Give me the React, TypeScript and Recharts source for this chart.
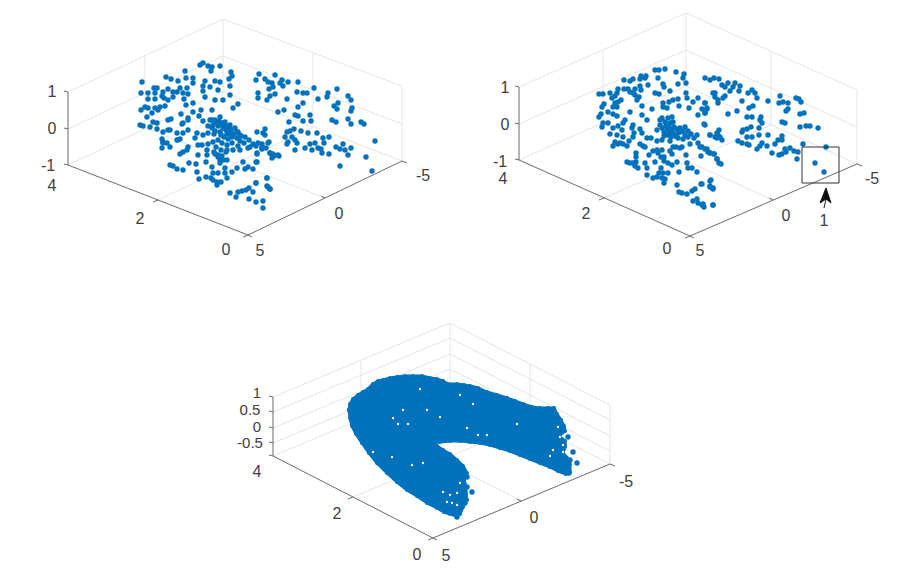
import { ScatterChart, Scatter, XAxis, YAxis, ReferenceDot } from "recharts";

type Pt = [number, number];
type Seg = [number, number, number, number];

const BLUE = "#0072BD";

const topLeftPoints: Pt[] = [
  [142,82],[166,77],[171,79],[178,81],[185,71],[186,78],[193,78],[193,83],[200,65],[203,63],[208,66],[212,67],[211,71],[220,66],[231,72],[232,76],[229,79],[205,81],[203,86],[210,87],[215,81],[220,82],[230,86],[218,90],[203,91],[205,97],
  [141,93],[148,93],[154,88],[157,88],[155,93],[148,99],[155,99],[163,92],[168,89],[162,96],[164,98],[168,100],[173,92],[177,92],[180,88],[187,88],[183,93],[188,94],[173,97],[184,99],[193,103],[186,105],
  [141,110],[145,107],[148,108],[155,108],[160,107],[165,106],[158,110],[152,113],[147,117],[153,122],[150,127],[157,123],[140,125],[143,126],[157,129],[168,120],[171,119],[181,114],[193,112],[201,110],[188,118],[183,123],[199,116],[203,121],[210,120],[215,120],[220,117],[212,110],[215,100],[223,100],[230,95],[233,108],[238,104],[213,125],[222,123],[225,127],[230,128],[237,132],[240,135],[168,130],[163,132],[177,133],[188,130],[203,135],[208,133],[214,134],[220,132],[227,134],[232,136],
  [162,139],[163,143],[170,130],[178,140],[183,133],[188,120],[182,124],[197,133],[195,138],
  [162,148],[163,142],[167,143],[170,147],[177,140],[180,139],[198,145],[202,145],[208,144],[213,142],[207,150],[188,147],[187,150],[183,152],[180,154],[198,155],[207,155],[215,154],[218,157],[220,160],[223,160],[227,160],[220,163],[170,165],[173,166],[177,169],[183,170],[189,163],[196,164],[206,162],[212,167],[197,172],[206,177],[199,179],[211,178],[213,173],[218,173],[225,168],[225,173],[227,178],[232,172],[237,168],[243,162],[248,167],[245,169],[253,169],[257,162],[257,153],[248,148],[240,150],[213,180],[217,182],[221,182],[217,185],[230,193],[238,192],[242,191],[246,190],[249,188],[253,192],[256,183],[236,197],[249,199],[256,202],[263,201],[263,208],[267,178],[268,187],[270,189],[268,143],[262,148],[270,153],[274,156],[278,155],
  [259,74],[275,75],[256,80],[265,79],[268,82],[272,83],[273,87],[269,89],[280,83],[282,80],[283,86],[288,82],[298,82],[314,88],[337,89],[297,92],[303,93],[307,93],[328,93],[327,97],[348,96],[351,100],[318,99],[287,99],[275,94],[270,96],[267,100],[258,93],[258,98],[303,103],[298,107],[284,110],[278,112],[338,103],[334,106],[337,109],[352,108],[351,111],[295,115],[298,116],[310,115],[332,120],[336,122],[311,121],[303,121],[289,122],[348,119],[351,124],[361,122],[364,124],[294,129],[290,131],[287,132],[301,131],[308,133],[317,133],[265,129],[263,133],[265,135],[257,132],[285,137],[292,137],[295,140],[288,142],[287,144],[297,143],[323,138],[329,137],[324,143],[310,144],[315,143],[269,142],[262,144],[258,143],[375,141],[343,144],[336,147],[340,149],[345,150],[351,148],[348,155],[305,148],[312,150],[318,148],[321,149],[322,153],[295,150],[329,154],[266,148],[262,149],[270,153],[279,156],[272,158],[273,154],[366,157],[340,166],[372,171],[257,154],[256,162],[267,178],[267,186],[270,189],[256,183],
  [212,120],[216,122],[219,121],[222,124],[225,122],[218,126],[223,128],[227,126],[230,125],[226,130],[231,130],[235,128],[229,133],[234,134],[238,132],[232,137],[237,138],[241,136],[245,137],[240,141],[244,143],[249,140],[253,144],[256,146],[262,147],[221,135],[224,137],[228,139],[218,140],[212,128],[208,126],[215,131],[250,147],[238,146],[232,143],[227,145],[222,143],[216,147],[221,150],[226,152],[214,152],[218,155],[222,156],[227,150],[233,150],
];

const topRightPoints: Pt[] = [
  [655,70],[659,70],[665,69],[676,72],[684,74],[683,78],[641,76],[646,76],[640,79],[645,78],[624,80],[630,81],[633,79],[658,78],[663,84],[664,87],[678,84],[686,83],[648,85],[640,86],[635,89],[641,90],[618,89],[624,89],[628,89],[630,92],[670,91],[655,93],[659,94],[686,93],[599,94],[603,94],[610,93],[617,93],[612,98],[615,96],[635,95],[639,97],[633,93],[637,100],[621,100],[618,102],[615,103],[613,107],[617,107],[604,104],[602,107],[642,106],[652,109],[663,103],[663,107],[667,108],[669,102],[673,100],[678,99],[679,106],[687,98],[693,102],[698,98],[705,103],[689,108],[702,109],[707,108],[705,113],[698,115],[715,93],[718,100],
  [608,112],[613,114],[617,116],[630,112],[642,115],[647,120],[601,114],[599,117],[625,120],[623,123],[603,123],[602,127],[608,123],[613,128],[618,126],[622,130],[633,125],[632,128],[640,129],[642,133],[610,134],[617,135],[623,137],[634,133],[633,137],[647,138],[651,138],[662,118],[660,120],[668,118],[672,117],[665,122],[670,123],[673,122],[705,125],[685,127],[680,132],[667,130],[670,132],[673,133],[678,133],[685,135],[688,137],[697,135],[710,135],[718,135],[717,138],
  [615,142],[613,146],[618,144],[623,144],[627,146],[629,141],[640,144],[645,147],[653,151],[636,153],[658,153],[662,150],[657,141],[662,140],[670,141],[673,147],[680,148],[690,144],[698,143],[702,147],[705,149],[708,152],
  [620,143],[643,146],[636,157],[649,155],[657,150],[664,157],[670,151],[672,154],[676,147],[682,147],[686,155],[700,147],[710,153],[714,154],[717,159],[719,163],[701,156],[627,162],[630,163],[633,163],[636,162],[635,166],[638,168],[645,163],[647,168],[655,162],[661,157],[664,161],[668,163],[672,165],[677,162],[661,168],[647,175],[653,178],[657,177],[659,173],[663,173],[668,173],[662,178],[665,179],[664,183],[679,172],[687,163],[688,168],[692,168],[697,172],[677,185],[679,192],[682,193],[687,194],[692,191],[695,189],[701,184],[711,180],[710,187],[713,188],[693,201],[697,199],[698,203],[702,205],[704,207],[713,205],
  [705,78],[710,80],[714,78],[719,79],[722,85],[725,87],[728,83],[735,83],[733,87],[730,91],[740,86],[739,91],[752,90],[748,93],[755,93],[757,98],[780,96],[796,98],[799,99],[801,102],[725,96],[723,98],[718,103],[713,93],[715,97],[742,101],[768,101],[779,103],[783,102],[788,103],[753,106],[749,108],[788,109],[786,111],[737,111],[728,114],[705,103],[707,109],[705,113],[747,117],[752,117],[761,117],[760,120],[762,123],[782,122],[785,123],[800,114],[804,113],[704,124],[759,128],[751,127],[747,129],[743,130],[742,132],[800,127],[806,126],[810,126],[818,128],[719,130],[717,133],[710,135],[715,137],[720,137],[722,140],[782,136],[759,135],[768,135],[747,137],[752,137],[738,141],[742,143],[747,144],[749,145],[762,143],[767,146],[778,140],[782,140],[775,144],[760,146],[757,149],[803,144],[826,147],[785,149],[790,148],[794,151],[798,152],[786,152],[772,153],[779,155],[782,154],[797,159],[815,163],[824,172],[707,149],[710,153],[714,154],[717,159],[721,164],[710,181],[702,184],[710,186],[713,189],[703,204],[713,205],
  [666,126],[669,127],[674,127],[677,129],[672,130],[668,135],[675,136],[680,128],[683,131],[688,131],[691,134],[694,138],[664,132],[671,137],[678,138],[683,139],[662,128],[660,125],[664,136],[657,130],
];

// bottom panel is too dense to read each dot: outline of the cloud, gaps and loose dots at the ends
const bottomOutline: Pt[] = [
  [349,410],[350,404],[353,399],[358,395],[363,392],[368,389],[373,384],[378,381],[383,380],[390,378],[397,377],[405,376],[413,376],[422,376],[430,378],[437,379],[443,381],[448,384],[457,384],[464,385],[470,386],[478,388],[487,392],[497,395],[507,398],[515,401],[523,404],[532,407],[540,408],[548,408],[554,408],[557,414],[561,420],[564,426],[565,431],[559,436],[565,441],[565,447],[563,453],[567,458],[570,464],[570,472],[566,474],[558,471],[550,467],[540,463],[530,459],[520,455],[510,451],[500,448],[490,445],[480,443],[470,442],[460,441],[450,441],[440,442],[432,443],[437,446],[443,450],[450,454],[457,460],[463,466],[467,473],[464,480],[466,486],[466,494],[467,500],[463,507],[460,514],[457,516],[450,514],[444,512],[437,508],[427,503],[417,496],[407,490],[397,482],[387,473],[377,463],[369,453],[362,443],[356,434],[352,426],[350,418],[349,410],
];
const bottomLoose: Pt[] = [
  [568,437],[564,445],[573,452],[577,463],[570,460],[565,457],[569,473],[472,492],[467,487],[462,478],[467,477],[465,503],[458,513],[457,517],
];
const bottomGaps: Pt[] = [
  [473,404],[560,437],[563,445],[478,435],[460,483],[450,495],[443,492],[460,395],[420,389],[392,457],[403,410],[398,424],[408,424],[440,417],[467,428],[427,410],[517,424],[550,456],[563,452],[558,427],[553,450],[447,502],[457,493],[452,503],[412,465],[423,463],[373,452],[457,505],[393,418],[487,435],
];

const gridSegments: Seg[] = [
  // top left
  [68,165,223,92],[223,92,402,161],[158,200,313,127],[325,198,145,128],[68,92,223,19],[68,129,223,56],[145,128,145,55],[223,92,223,19],[223,19,402,86],[223,56,402,124],[313,127,313,54],[402,161,402,86],
  // top right
  [519,160,686,86],[686,86,857,164],[604,198,771,125],[773,200,603,123],[519,87,686,13],[519,124,686,50],[603,123,603,50],[686,86,686,13],[686,13,857,90],[686,50,857,127],[771,125,771,52],[857,164,857,90],
  // bottom
  [273,456,450,382],[450,382,610,464],[353,497,530,423],[521,501,361,419],[273,397,450,323],[273,412,450,338],[273,428,450,354],[273,443,450,369],[361,419,361,360],[450,382,450,323],[450,323,610,405],[450,338,610,420],[450,354,610,436],[450,369,610,451],[530,423,530,364],[610,464,610,405],
];

const axisSegments: Seg[] = [
  [68,92,68,165],[68,165,248,235],[248,235,402,161],
  [68,92,64,91],[68,129,64,128],[68,165,64,164],[158,200,153,202],[248,235,243,237],[325,198,321,196],[402,161,407,163],[248,235,252,237],
  [519,87,519,160],[519,160,690,236],[690,236,857,164],
  [519,87,515,86],[519,124,515,123],[519,160,515,159],[604,198,599,200],[690,236,685,238],[773,200,769,198],[857,164,862,166],[690,236,694,238],
  [273,397,273,456],[273,456,433,538],[433,538,610,464],
  [273,397,269,396],[273,412,269,411],[273,428,269,427],[273,443,269,442],[273,456,269,455],[353,497,348,499],[433,538,428,540],[521,501,517,499],[610,464,615,466],[433,538,437,540],
];

const calloutBox: Pt[] = [[802,147],[839,147],[839,183],[802,183],[802,147]];
const calloutStem: Pt[] = [[826,199],[824,208]];
const calloutHead: Pt[] = [[826,188],[831,203],[826,199],[820,203],[826,188]];

const tickLabels: [string, number, number][] = [
  ["1",52,91],["0",52,128],["-1",48,165],["4",52,185],["2",140,218],["0",226,249],["5",260,250],["0",339,213],["-5",423,175],
  ["1",505,87],["0",505,124],["-1",500,161],["4",503,178],["2",586,213],["0",667,248],["5",700,250],["0",786,215],["-5",872,178],["1",824,220],
  ["4",257,471],["2",337,513],["0",417,554],["5",446,555],["0",534,517],["-5",626,481],
];
const bottomZLabels: [string, number, number][] = [
  ["1",257,393],["0.5",250,410],["0",257,427],["-0.5",250,443],
];

const toRows = (pts: Pt[]) => pts.map(([x, y]) => ({ x, y }));
const noDot = () => <g />;
const dot = (r: number, fill: string) => (p: any) => <circle cx={p.cx} cy={p.cy} r={r} fill={fill} />;

function segment(s: Seg, key: string, stroke: string, width: number) {
  return (
    <Scatter
      key={key}
      data={[{ x: s[0], y: s[1] }, { x: s[2], y: s[3] }]}
      line={{ stroke, strokeWidth: width }}
      shape={noDot}
      isAnimationActive={false}
    />
  );
}

function label(value: string, x: number, y: number, size: number, key: string) {
  return (
    <ReferenceDot
      key={key}
      x={x}
      y={y}
      r={0}
      fill="none"
      stroke="none"
      label={{ value, position: "center", fill: "#404040", fontSize: size, fontFamily: "Liberation Sans" }}
    />
  );
}

export default function App() {
  return (
    <div style={{ position: "absolute", left: 0, top: 0, width: 897, height: 581, background: "#fff" }}>
      <ScatterChart width={897} height={581} margin={{ top: 0, right: 0, bottom: 0, left: 0 }}>
        <XAxis type="number" dataKey="x" domain={[0, 897]} hide />
        <YAxis type="number" dataKey="y" domain={[0, 581]} reversed hide />
        {gridSegments.map((s, i) => segment(s, `g${i}`, "#e4e4e4", 1))}
        {axisSegments.map((s, i) => segment(s, `a${i}`, "#6a6a6a", 1))}
        <Scatter data={toRows(topLeftPoints)} shape={dot(2.7, BLUE)} isAnimationActive={false} />
        <Scatter data={toRows(topRightPoints)} shape={dot(2.7, BLUE)} isAnimationActive={false} />
        <Scatter
          data={toRows(bottomOutline)}
          line={{ stroke: BLUE, fill: BLUE, strokeWidth: 3 }}
          shape={dot(2, BLUE)}
          isAnimationActive={false}
        />
        <Scatter data={toRows(bottomLoose)} shape={dot(2.7, BLUE)} isAnimationActive={false} />
        <Scatter data={toRows(bottomGaps)} shape={dot(1.2, "#fff")} isAnimationActive={false} />
        <Scatter data={toRows(calloutBox)} line={{ stroke: "#333", strokeWidth: 1 }} shape={noDot} isAnimationActive={false} />
        <Scatter data={toRows(calloutStem)} line={{ stroke: "#222", strokeWidth: 1 }} shape={noDot} isAnimationActive={false} />
        <Scatter data={toRows(calloutHead)} line={{ stroke: "#111", fill: "#111", strokeWidth: 1 }} shape={noDot} isAnimationActive={false} />
        {tickLabels.map(([value, x, y], i) => label(value, x, y, 16, `t${i}`))}
        {bottomZLabels.map(([value, x, y], i) => label(value, x, y, 15, `z${i}`))}
      </ScatterChart>
    </div>
  );
}
